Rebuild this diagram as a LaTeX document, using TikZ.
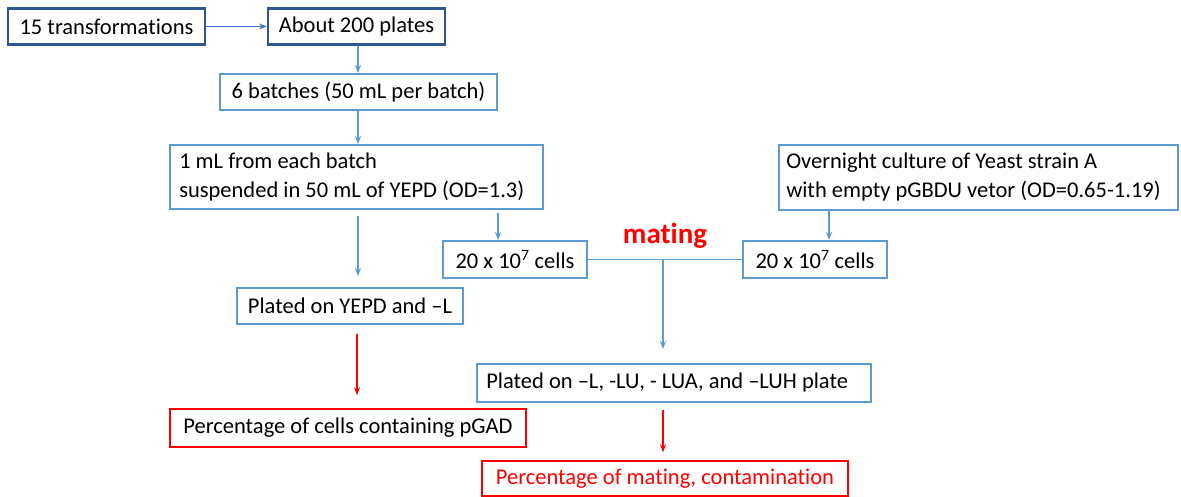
\documentclass[tikz,border=0pt]{standalone}
\usepackage{fontspec}
\setmainfont{Carlito}[Ligatures=NoCommon]
\usetikzlibrary{arrows.meta}
\definecolor{dblue}{HTML}{2F5597}
\definecolor{lblue}{HTML}{5B9BD5}
\definecolor{mblue}{HTML}{4472C4}
\definecolor{rred}{HTML}{FF0000}
\begin{document}
\begin{tikzpicture}[x=1pt,y=-1pt,
  box/.style={draw=lblue,line width=1.9pt,inner sep=0pt,anchor=center,
    font=\fontsize{22.5}{29}\selectfont,text=black},
  dbox/.style={box,draw=dblue,line width=2.2pt},
  rbox/.style={box,draw=rred,line width=1.5pt},
  txt/.style={inner sep=0pt,anchor=west,align=left,font=\fontsize{22.5}{29}\selectfont},
  barrow/.style={draw=lblue,line width=1.7pt,-{Stealth[length=8pt,width=6pt]}},
  rarrow/.style={draw=rred,line width=1.7pt,-{Stealth[length=8pt,width=6pt]}}
]
\useasboundingbox (0,0) rectangle (1181,497);
\fill[white] (0,0) rectangle (1181,497);

\node[dbox,minimum width=197pt,minimum height=36pt] (n1) at (106.5,26.5) {15 transformations};
\node[dbox,minimum width=177pt,minimum height=36pt] (n2) at (356.5,26.5) {About 200 plates};
\node[box,minimum width=277pt,minimum height=36pt] (n3) at (358.5,92) {6 batches (50 mL per batch)};
\node[box,minimum width=373pt,minimum height=64pt] (n4) at (356.5,177) {};
\node[txt] (t4) at ([xshift=10pt]n4.west) {1 mL from each batch\\suspended in 50 mL of YEPD (OD=1.3)};
\node[box,minimum width=226pt,minimum height=36pt] (n5) at (350,306) {Plated on YEPD and –L};
\node[box,minimum width=144pt,minimum height=37pt] (n6) at (515,259.5) {20 x 10\textsuperscript{7} cells};
\node[box,minimum width=399pt,minimum height=65pt] (n7) at (978.5,177.5) {};
\node[txt] (t7) at ([xshift=8pt]n7.west) {Overnight culture of Yeast strain A\\with empty pGBDU vetor (OD=0.65-1.19)};
\node[box,minimum width=144pt,minimum height=37pt] (n8) at (815,259.5) {20 x 10\textsuperscript{7} cells};
\node[box,minimum width=394pt,minimum height=38pt] (n9) at (674,383) {};
\node[txt] (t9) at ([xshift=10pt]n9.west) {Plated on –L, -LU, - LUA, and –LUH plate};
\node[rbox,minimum width=356pt,minimum height=38pt] (n10) at (348,428) {Percentage of cells containing pGAD};
\node[rbox,minimum width=366pt,minimum height=35pt,text=rred] (n11) at (665,478.5) {Percentage of mating, contamination};
\node[text=rred,font=\fontsize{29}{34}\selectfont\bfseries,anchor=center] (mat) at (665,236) {mating};

\coordinate (c45) at (358,0);
\coordinate (c46) at (498,0);
\coordinate (c78) at (829,0);
\coordinate (m) at (663,259.5);
\coordinate (c510) at (357,0);

\draw[barrow,draw=mblue] (n1.east) -- (n2.west);
\draw[barrow] (n2.south -| c45) -- (n3.north -| c45);
\draw[barrow] (n3.south -| c45) -- (n4.north -| c45);
\draw[barrow,shorten <=6pt,shorten >=11pt] (n4.south -| c45) -- (n5.north -| c45);
\draw[barrow,shorten <=3pt] (n4.south -| c46) -- (n6.north -| c46);
\draw[barrow] (n7.south -| c78) -- (n8.north -| c78);
\draw[draw=lblue,line width=1.7pt] (n6.east) -- (n8.west);
\draw[barrow,shorten >=14pt] (m) -- (n9.north -| m);
\draw[rarrow,shorten <=9pt,shorten >=13pt] (n5.south -| c510) -- (n10.north -| c510);
\draw[rarrow,shorten <=7pt,shorten >=8pt] (n9.south -| m) -- (n11.north -| m);
\end{tikzpicture}
\end{document}
